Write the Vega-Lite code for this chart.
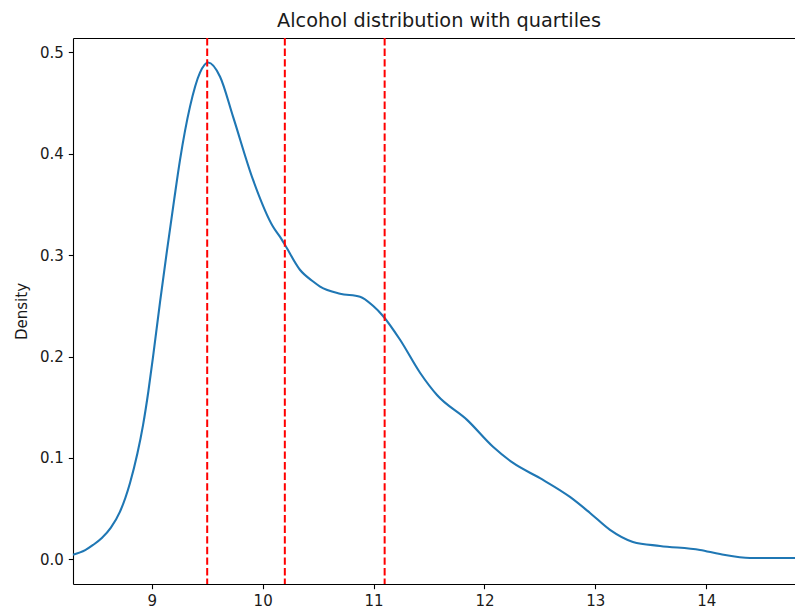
{
  "$schema": "https://vega.github.io/schema/vega-lite/v6.json",
  "width": 722,
  "height": 546,
  "autosize": {"type": "none"},
  "padding": {"left": 73, "top": 38, "right": 0, "bottom": 28},
  "background": "white",
  "config": {
    "view": {"stroke": null},
    "font": "DejaVu Sans",
    "axis": {
      "domainColor": "black",
      "domainWidth": 1.1,
      "tickColor": "black",
      "tickWidth": 1.1,
      "tickSize": 4.7,
      "labelColor": "#1a1a1a",
      "labelFont": "DejaVu Sans",
      "labelFontSize": 15,
      "labelPadding": 5,
      "grid": false,
      "titleFont": "DejaVu Sans",
      "titleFontWeight": "normal",
      "titleFontSize": 15,
      "titleColor": "#1a1a1a"
    }
  },
  "title": {
    "text": "Alcohol distribution with quartiles",
    "font": "DejaVu Sans",
    "fontSize": 19.3,
    "fontWeight": "normal",
    "color": "#1a1a1a",
    "anchor": "middle",
    "dx": 5,
    "offset": 6
  },
  "layer": [
    {
      "data": {
        "values": [
          {"alcohol": 8.29, "density": 0.0045},
          {"alcohol": 8.40, "density": 0.009},
          {"alcohol": 8.471, "density": 0.0141},
          {"alcohol": 8.55, "density": 0.021},
          {"alcohol": 8.63, "density": 0.031},
          {"alcohol": 8.714, "density": 0.047},
          {"alcohol": 8.804, "density": 0.0753},
          {"alcohol": 8.87, "density": 0.104},
          {"alcohol": 8.922, "density": 0.1326},
          {"alcohol": 8.97, "density": 0.166},
          {"alcohol": 9.012, "density": 0.2},
          {"alcohol": 9.075, "density": 0.254},
          {"alcohol": 9.138, "density": 0.305},
          {"alcohol": 9.2, "density": 0.353},
          {"alcohol": 9.255, "density": 0.394},
          {"alcohol": 9.345, "density": 0.4465},
          {"alcohol": 9.435, "density": 0.48},
          {"alcohol": 9.508, "density": 0.49},
          {"alcohol": 9.616, "density": 0.476},
          {"alcohol": 9.733, "density": 0.4366},
          {"alcohol": 9.913, "density": 0.3744},
          {"alcohol": 10.094, "density": 0.328},
          {"alcohol": 10.157, "density": 0.318},
          {"alcohol": 10.202, "density": 0.31},
          {"alcohol": 10.336, "density": 0.2856},
          {"alcohol": 10.455, "density": 0.274},
          {"alcohol": 10.518, "density": 0.269},
          {"alcohol": 10.698, "density": 0.262},
          {"alcohol": 10.878, "density": 0.259},
          {"alcohol": 10.995, "density": 0.25},
          {"alcohol": 11.085, "density": 0.24},
          {"alcohol": 11.239, "density": 0.2165},
          {"alcohol": 11.419, "density": 0.184},
          {"alcohol": 11.572, "density": 0.162},
          {"alcohol": 11.843, "density": 0.1375},
          {"alcohol": 12.077, "density": 0.111},
          {"alcohol": 12.258, "density": 0.095},
          {"alcohol": 12.501, "density": 0.08},
          {"alcohol": 12.771, "density": 0.0615},
          {"alcohol": 12.952, "density": 0.0457},
          {"alcohol": 13.132, "density": 0.029},
          {"alcohol": 13.339, "density": 0.0171},
          {"alcohol": 13.583, "density": 0.0131},
          {"alcohol": 13.944, "density": 0.0092},
          {"alcohol": 14.124, "density": 0.0052},
          {"alcohol": 14.395, "density": 0.0013},
          {"alcohol": 14.8, "density": 0.0013}
        ]
      },
      "mark": {"type": "line", "color": "#1f77b4", "strokeWidth": 2.1, "interpolate": "monotone"},
      "encoding": {
        "x": {
          "field": "alcohol",
          "type": "quantitative",
          "scale": {"domain": [8.29, 14.8], "nice": false, "zero": false},
          "axis": {"title": null, "values": [9, 10, 11, 12, 13, 14], "format": "d"}
        },
        "y": {
          "field": "density",
          "type": "quantitative",
          "scale": {"domain": [-0.0244, 0.5142], "nice": false, "zero": false},
          "axis": {"title": "Density", "values": [0, 0.1, 0.2, 0.3, 0.4, 0.5], "format": ".1f", "titlePadding": 10}
        }
      }
    },
    {
      "data": {
        "values": [
          {"quartile": "Q1", "value": 9.5},
          {"quartile": "Median", "value": 10.2},
          {"quartile": "Q3", "value": 11.1}
        ]
      },
      "mark": {"type": "rule", "color": "#ff0000", "strokeWidth": 2, "strokeDash": [7.4, 3.2]},
      "encoding": {
        "x": {
          "field": "value",
          "type": "quantitative",
          "axis": {"orient": "top", "title": null, "labels": false, "ticks": false, "domain": true}
        }
      }
    }
  ],
  "resolve": {"axis": {"x": "independent"}}
}
